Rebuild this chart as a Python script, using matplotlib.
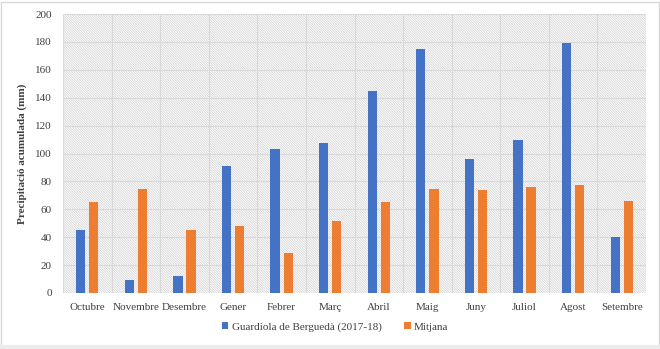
import matplotlib
matplotlib.use("Agg")
import matplotlib.pyplot as plt
import numpy as np
from matplotlib.patches import Rectangle

months = ["Octubre", "Novembre", "Desembre", "Gener", "Febrer", "Març",
          "Abril", "Maig", "Juny", "Juliol", "Agost", "Setembre"]
guardiola = [45.5, 9.5, 12.0, 91.0, 103.0, 107.5, 145.0, 175.0, 96.0, 110.0, 179.5, 40.5]
mitjana = [65.0, 74.5, 45.0, 48.0, 29.0, 51.5, 65.0, 74.5, 74.0, 75.8, 77.2, 66.2]
y_ticks = [0, 20, 40, 60, 80, 100, 120, 140, 160, 180, 200]

blue = "#4472C4"
orange = "#ED7D31"
grid_col = "#d9d9d9"
text_col = "#404040"

plt.rcParams["font.family"] = ["Liberation Serif", "DejaVu Serif"]
plt.rcParams["hatch.linewidth"] = 0.5
plt.rcParams["hatch.color"] = "#cfcfcf"

fig = plt.figure(figsize=(6.6, 3.49), dpi=100)
fig.patch.set_facecolor("white")

ax = fig.add_axes([63 / 660, 1 - 293 / 349, (646 - 63) / 660, (293 - 14) / 349])
ax.patch.set_facecolor("white")
ax.patch.set_hatch("\\" * 14)
ax.patch.set_edgecolor("#cfcfcf")
ax.patch.set_linewidth(0)

x = np.arange(len(months))
w = 0.19
off = 0.135
ax.bar(x - off, guardiola, width=w, color=blue, label="Guardiola de Berguedà (2017-18)", zorder=3)
ax.bar(x + off, mitjana, width=w, color=orange, label="Mitjana", zorder=3)

ax.set_xlim(-0.5, len(months) - 0.5)
ax.set_ylim(0, 200)
ax.set_yticks(y_ticks)
ax.set_yticklabels([str(v) for v in y_ticks])
ax.set_xticks(x)
ax.set_xticklabels(months)

# gridlines: horizontal at each tick, vertical at category boundaries
for v in y_ticks:
    ax.axhline(v, color=grid_col, lw=0.8, zorder=1)
for b in np.arange(-0.5, len(months), 1.0):
    ax.axvline(b, color=grid_col, lw=0.8, zorder=1)

for s in ax.spines.values():
    s.set_visible(False)
ax.tick_params(axis="both", length=0, colors=text_col, labelsize=8)
ax.tick_params(axis="x", pad=7)
ax.tick_params(axis="y", pad=8)

ax.set_ylabel("Precipitació acumulada (mm)", fontsize=8, fontweight="bold",
              color=text_col, labelpad=6)

leg = fig.legend(loc="center", bbox_to_anchor=(335 / 660, 1 - 327 / 349), ncol=2,
                 frameon=False, fontsize=8, handlelength=0.6, handleheight=0.6,
                 handletextpad=0.3, columnspacing=2.0)
for t in leg.get_texts():
    t.set_color(text_col)

# outer chart frame
fig.add_artist(Rectangle((0.5 / 660, 0.5 / 349), 658 / 660, 347 / 349,
                         transform=fig.transFigure, fill=False,
                         edgecolor="#d9d9d9", lw=1))
fig.add_artist(Rectangle((0, 0), 1, 4 / 349, transform=fig.transFigure,
                         facecolor="#ececec", edgecolor="none"))

fig.savefig("out.png", dpi=100)
